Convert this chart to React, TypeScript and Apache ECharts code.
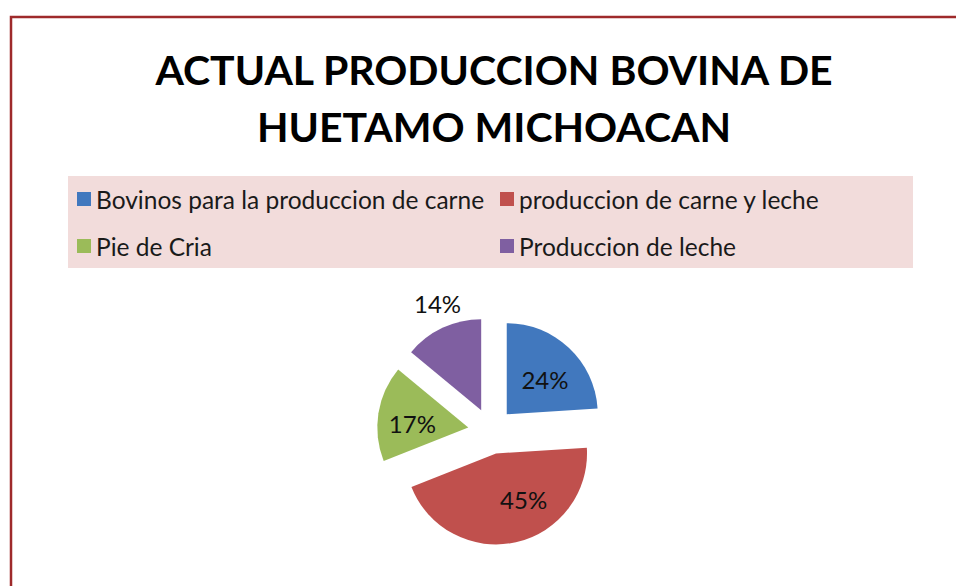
import React, { useEffect, useRef } from 'react';
import * as echarts from 'echarts';

const titleText = 'ACTUAL PRODUCCION BOVINA DE\nHUETAMO MICHOACAN';
const categories = [
  'Bovinos para la produccion de carne',
  'produccion de carne y leche',
  'Pie de Cria',
  'Produccion de leche',
];
const values = [24, 45, 17, 14];
const colors = ['#4178BE', '#C0504D', '#9BBB59', '#7F5FA1'];
// label nudges (layout only)
const labelShift = [
  [5, 1],
  [17, -1],
  [-8, 4],
  [-23, -63],
];

export default function App() {
  const ref = useRef<HTMLDivElement>(null);
  useEffect(() => {
    const chart = echarts.init(ref.current!, null, { renderer: 'svg' });
    const font = 'Lato, "Noto Sans", sans-serif';
    chart.setOption({
      animation: false,
      backgroundColor: '#ffffff',
      title: {
        text: titleText,
        left: 489,
        top: 36,
        textAlign: 'center',
        textStyle: {
          fontFamily: font,
          fontSize: 41,
          fontWeight: 'bold',
          color: '#000000',
          lineHeight: 57,
        },
      },
      graphic: [
        {
          type: 'rect',
          shape: { x: 11, y: 17, width: 1100, height: 800 },
          style: { fill: 'none', stroke: '#9E2A2B', lineWidth: 2.5 },
          z: 0,
        },
        {
          type: 'rect',
          shape: { x: 68, y: 176, width: 845, height: 92 },
          style: { fill: '#F2DCDB' },
          z: 0,
        },
      ],
      legend: [0, 1].map((col) => ({
        left: col === 0 ? 72 : 495,
        top: 181,
        orient: 'vertical',
        itemGap: 21,
        icon: 'rect',
        itemWidth: 14,
        itemHeight: 14,
        selectedMode: false,
        data: [categories[col], categories[col + 2]],
        textStyle: {
          fontFamily: font,
          fontSize: 24.5,
          lineHeight: 26,
          color: '#1a1a1a',
        },
      })),
      series: [
        {
          type: 'pie',
          center: [491, 431],
          radius: 91,
          startAngle: 90,
          clockwise: true,
          selectedMode: 'multiple',
          selectedOffset: 23,
          emphasis: { disabled: true },
          label: {
            show: true,
            position: 'inside',
            formatter: '{c}%',
            fontFamily: font,
            fontSize: 24,
            color: '#111111',
          },
          labelLine: { show: false },
          labelLayout: (params: any) => ({
            dx: labelShift[params.dataIndex][0],
            dy: labelShift[params.dataIndex][1],
          }),
          data: categories.map((name, i) => ({
            name,
            value: values[i],
            selected: true,
            itemStyle: { color: colors[i] },
          })),
        },
      ],
    });
    return () => chart.dispose();
  }, []);
  return (
    <div
      ref={ref}
      style={{ position: 'fixed', left: 0, top: 0, width: 956, height: 586 }}
    />
  );
}
